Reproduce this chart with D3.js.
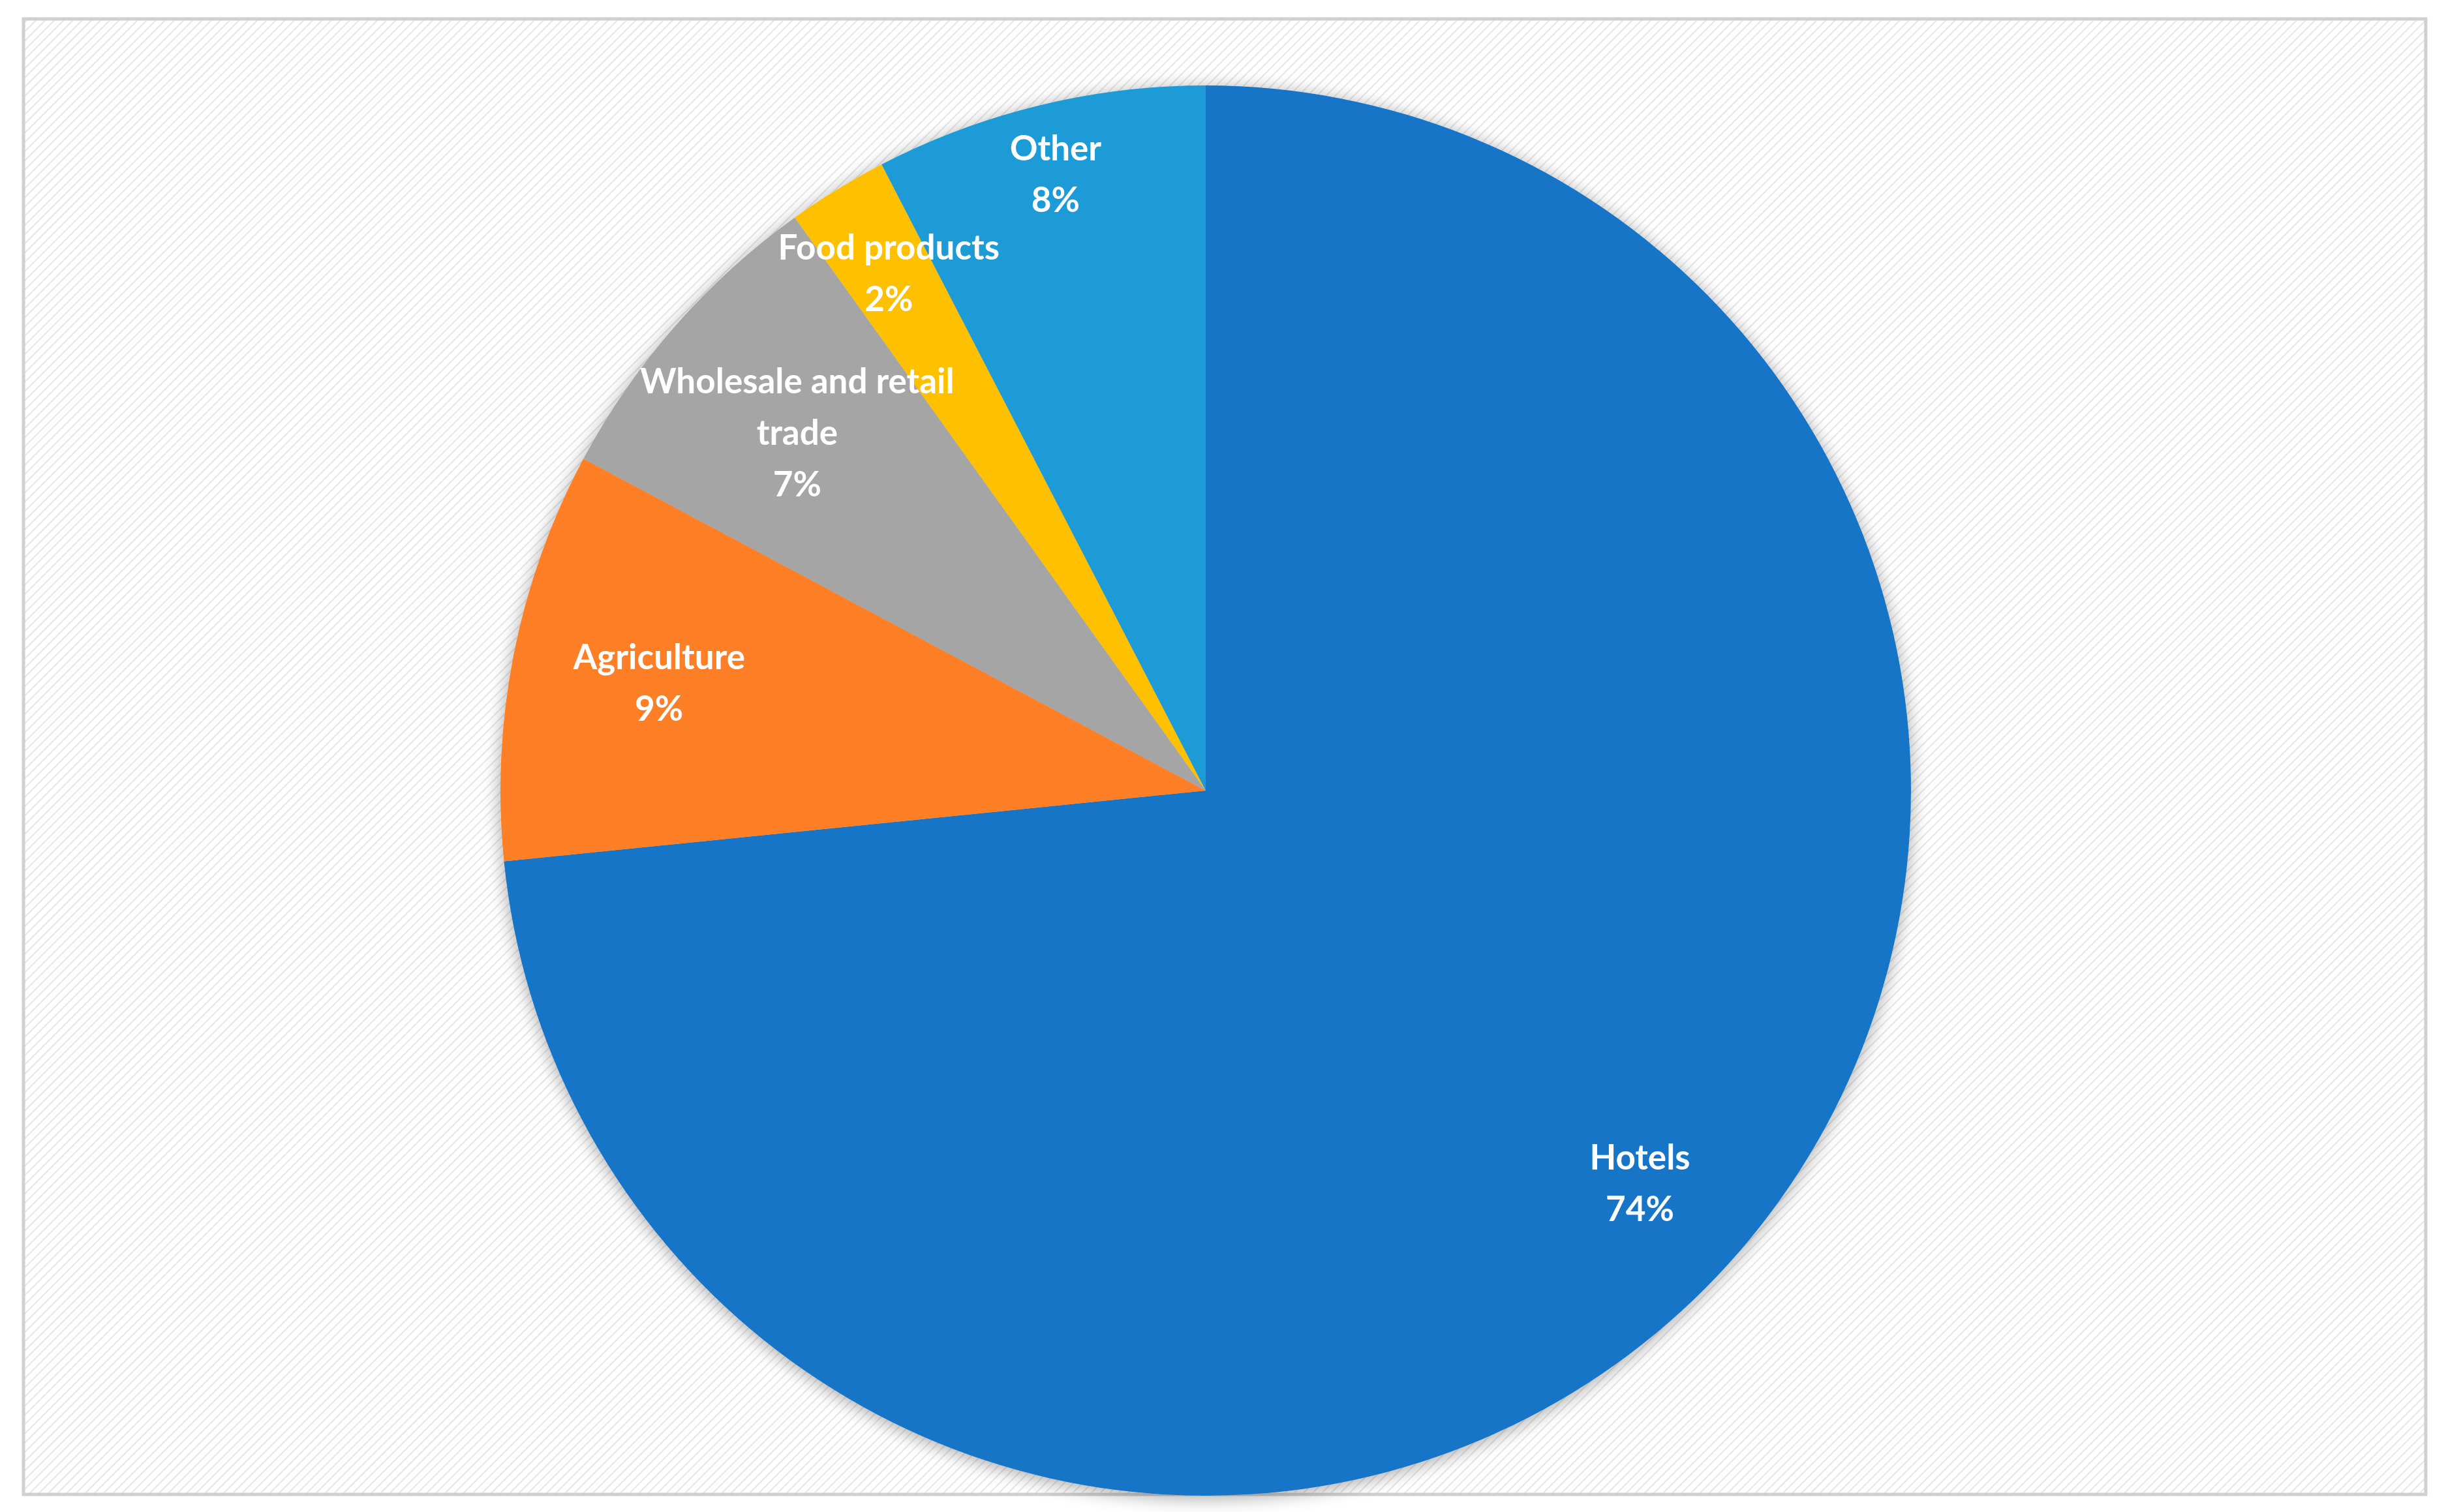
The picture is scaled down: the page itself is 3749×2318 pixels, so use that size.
<!DOCTYPE html>
<html><head><meta charset="utf-8">
<script src="https://cdn.jsdelivr.net/npm/d3@7"></script>
<style>body{margin:0;background:#fff}</style></head>
<body><svg id="c" width="3749" height="2318"></svg>
<script>
const categories = ["Hotels","Agriculture","Wholesale and retail trade","Food products","Other"];
const values = [73.4, 9.4, 7.3, 2.3, 7.6];
const pctLabels = ["74%","9%","7%","2%","8%"];
const colors = ["#1874C7","#FF7F27","#A5A5A5","#FFC000","#1E9BD7"];
const labelRadius = [0.83,0.79,0.77,0.86,0.9];
const labelLines = [["Hotels"],["Agriculture"],["Wholesale and retail","trade"],["Food products"],["Other"]];

const svg = d3.select("#c");
const defs = svg.append("defs");
const pat = defs.append("pattern").attr("id","hatch").attr("width",10).attr("height",10)
  .attr("patternUnits","userSpaceOnUse").attr("patternTransform","rotate(45)");
pat.append("rect").attr("width",10).attr("height",10).attr("fill","#fff");
pat.append("line").attr("x1",0).attr("y1",0).attr("x2",0).attr("y2",10).attr("stroke","#e6e6e6").attr("stroke-width",4);
const f = defs.append("filter").attr("id","sh").attr("x","-20%").attr("y","-20%").attr("width","140%").attr("height","140%");
f.append("feGaussianBlur").attr("in","SourceAlpha").attr("stdDeviation",14).attr("result","b");
f.append("feOffset").attr("dx",0).attr("dy",4).attr("result","o");
f.append("feComponentTransfer").append("feFuncA").attr("type","linear").attr("slope",0.35);
const m = f.append("feMerge"); m.append("feMergeNode"); m.append("feMergeNode").attr("in","SourceGraphic");

svg.append("rect").attr("x",36).attr("y",29).attr("width",3682).attr("height",2262)
  .attr("fill","url(#hatch)").attr("stroke","#d0d0d0").attr("stroke-width",5);

const cx=1848, cy=1212, R=1081;
const pie = d3.pie().sort(null).value(d=>d)(values);
const arc = d3.arc().innerRadius(0).outerRadius(R);
const g = svg.append("g").attr("transform",`translate(${cx},${cy})`);
g.append("g").attr("filter","url(#sh)").selectAll("path").data(pie).join("path")
  .attr("d",arc).attr("fill",(d,i)=>colors[i]);

pie.forEach((d,i)=>{
  const a=(d.startAngle+d.endAngle)/2, r=R*labelRadius[i];
  const x=Math.sin(a)*r, y=-Math.cos(a)*r;
  const lines=[...labelLines[i], pctLabels[i]];
  const lh=79, y0=y-(lines.length-1)*lh/2;
  const t=g.append("text").attr("text-anchor","middle").attr("fill","#fff")
    .attr("font-family","Lato, 'Open Sans', sans-serif").attr("font-weight","bold").attr("font-size",53);
  lines.forEach((s,k)=>t.append("tspan").attr("x",x).attr("y",y0+k*lh).attr("dy","0.35em").text(s));
});
</script></body></html>
